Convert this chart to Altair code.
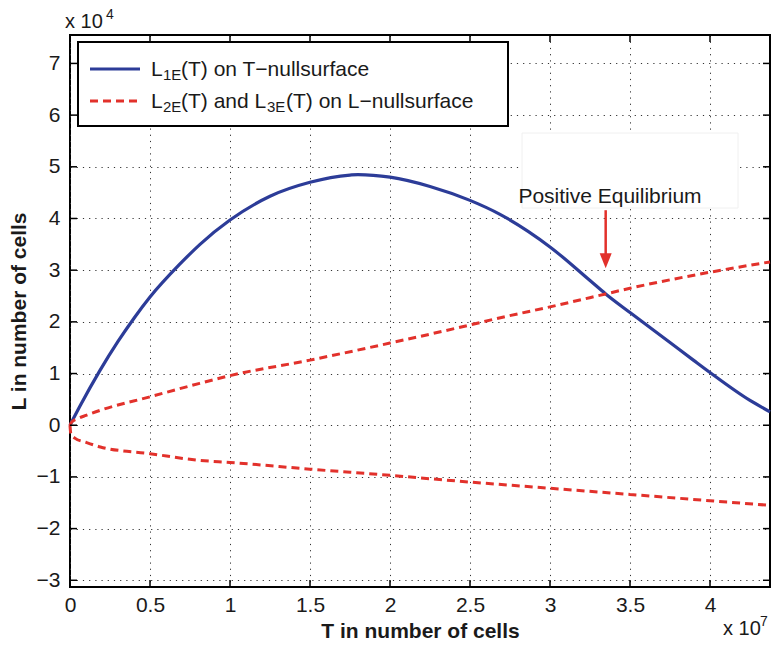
import altair as alt
import pandas as pd

# ---- data (T in units of 1e7 cells, L in units of 1e4 cells) ----
T_BLUE = [0, 0.0625, 0.1875, 0.3, 0.4, 0.5, 0.6875, 0.8125, 1.0, 1.25, 1.5, 1.75, 1.8, 2.0, 2.25, 2.5,
          2.6875, 3.0, 3.25, 3.348, 3.5, 3.75, 3.896, 4.0, 4.25, 4.375]
L_BLUE = [0, 0.37, 1.06, 1.62, 2.07, 2.48, 3.12, 3.5, 3.97, 4.43, 4.70, 4.84, 4.85, 4.80, 4.62, 4.35,
          4.08, 3.45, 2.80, 2.54, 2.18, 1.6, 1.26, 1.02, 0.48, 0.26]

T_RED_UP = [0, 0.01, 0.05, 0.1, 0.19, 0.5, 0.81, 1.0, 1.5, 2.0, 2.5, 2.69, 3.0, 3.348, 3.5, 4.0, 4.375]
L_RED_UP = [0, 0.06, 0.13, 0.19, 0.29, 0.55, 0.81, 0.96, 1.26, 1.59, 1.94, 2.08, 2.29, 2.54, 2.65, 2.96, 3.16]

T_RED_LO = [0, 0.005, 0.03, 0.1, 0.19, 0.5, 0.81, 1.0, 1.5, 2.0, 2.5, 3.0, 3.5, 4.0, 4.375]
L_RED_LO = [0, -0.16, -0.25, -0.33, -0.42, -0.55, -0.68, -0.72, -0.85, -0.97, -1.1, -1.22, -1.34, -1.46, -1.55]

X_TICKS = [0, 0.5, 1, 1.5, 2, 2.5, 3, 3.5, 4]
Y_TICKS = [-3, -2, -1, 0, 1, 2, 3, 4, 5, 6, 7]

EQ_T = [3.348]
ARROW_TOP = [4.16]
ARROW_HEAD = [3.18]

X_DOMAIN = [0, 4.375]
Y_DOMAIN = [-3.13, 7.55]

# ---- style ----
W, H = 700, 552
FONT = "Liberation Sans"
BLUE = "#2c3c98"
RED = "#e2312b"
LABEL_EXPR = "replace(format(datum.value, '~g'), '-', '\u2212')"

xscale = alt.Scale(domain=X_DOMAIN, nice=False, zero=False)
yscale = alt.Scale(domain=Y_DOMAIN, nice=False, zero=False)

common_axis = dict(grid=True, gridDash=[1.2, 5], gridColor="#333333", gridWidth=1,
                   domain=False, ticks=False, labelFont=FONT, labelFontSize=21,
                   labelColor="#1a1a1a", titleFont=FONT, titleFontSize=21,
                   titleFontWeight="bold", titleColor="#1a1a1a", labelExpr=LABEL_EXPR,
                   labelFlush=False, labelOverlap=False)

x_enc = alt.X("T:Q", scale=xscale,
              axis=alt.Axis(values=X_TICKS, title="T in number of cells",
                            labelPadding=7, titlePadding=5, **common_axis))
y_enc = alt.Y("L:Q", scale=yscale,
              axis=alt.Axis(values=Y_TICKS, title="L in number of cells",
                            labelPadding=10, titlePadding=7, **common_axis))

blue_df = pd.DataFrame({"T": T_BLUE, "L": L_BLUE})
up_df = pd.DataFrame({"T": T_RED_UP, "L": L_RED_UP})
lo_df = pd.DataFrame({"T": T_RED_LO, "L": L_RED_LO})

blue = alt.Chart(blue_df).mark_line(color=BLUE, strokeWidth=3.2, interpolate="monotone").encode(
    x=x_enc, y=y_enc, order="T:Q")
red_up = alt.Chart(up_df).mark_line(color=RED, strokeWidth=3, strokeDash=[8, 5],
                                    interpolate="monotone").encode(x=x_enc, y=y_enc, order="T:Q")
red_lo = alt.Chart(lo_df).mark_line(color=RED, strokeWidth=3, strokeDash=[8, 5],
                                    interpolate="monotone").encode(x=x_enc, y=y_enc, order="T:Q")

one = pd.DataFrame({"k": [0]})


def text(txt, x, y, size=21, weight="normal", align="left", color="#1a1a1a"):
    return alt.Chart(one).mark_text(text=txt, align=align, baseline="alphabetic", font=FONT,
                                    fontSize=size, fontWeight=weight, color=color).encode(
        x=alt.value(x), y=alt.value(y))


# annotation
ann_box = alt.Chart(one).mark_rect(fill="white", stroke="#f0f0f0", strokeWidth=1).encode(
    x=alt.value(452), x2=alt.value(668), y=alt.value(98), y2=alt.value(173))
ann_text = text("Positive Equilibrium", 540, 168, size=21, align="center")
arrow_df = pd.DataFrame({"T": EQ_T, "top": ARROW_TOP, "head": ARROW_HEAD})
arrow_shaft = alt.Chart(arrow_df).mark_rule(color=RED, strokeWidth=2.5).encode(
    x=alt.X("T:Q", scale=xscale), y=alt.Y("top:Q", scale=yscale), y2="head:Q")
arrow_head = alt.Chart(arrow_df).mark_point(
    shape="M-0.8,-1L0.8,-1L0,1Z", filled=True, fill=RED, color=RED, size=225, opacity=1,
    strokeWidth=0).encode(x=alt.X("T:Q", scale=xscale), y=alt.Y("head:Q", scale=yscale))

# legend
leg_box = alt.Chart(one).mark_rect(fill="white", stroke="black", strokeWidth=2).encode(
    x=alt.value(8), x2=alt.value(438), y=alt.value(7), y2=alt.value(91))
leg_blue = alt.Chart(one).mark_rule(color=BLUE, strokeWidth=3).encode(
    x=alt.value(20), x2=alt.value(70), y=alt.value(34))
leg_red = alt.Chart(one).mark_rule(color=RED, strokeWidth=3, strokeDash=[8, 5]).encode(
    x=alt.value(20), x2=alt.value(70), y=alt.value(66))
leg_texts = [
    text("L", 81, 41), text("1E", 93, 45, size=15), text("(T) on T\u2212nullsurface", 111, 41),
    text("L", 81, 73), text("2E", 93, 77, size=15), text("(T) and L", 111, 73),
    text("3E", 197, 77, size=15), text("(T) on L\u2212nullsurface", 216, 73),
]

# inside ticks (MATLAB box style)
xt_df = pd.DataFrame({"T": X_TICKS})
yt_df = pd.DataFrame({"L": Y_TICKS})
TL = 7
tick_b = alt.Chart(xt_df).mark_rule(color="black", strokeWidth=1.5).encode(
    x=x_enc, y=alt.value(H), y2=alt.value(H - TL))
tick_t = alt.Chart(xt_df).mark_rule(color="black", strokeWidth=1.5).encode(
    x=x_enc, y=alt.value(0), y2=alt.value(TL))
tick_l = alt.Chart(yt_df).mark_rule(color="black", strokeWidth=1.5).encode(
    y=y_enc, x=alt.value(0), x2=alt.value(TL))
tick_r = alt.Chart(yt_df).mark_rule(color="black", strokeWidth=1.5).encode(
    y=y_enc, x=alt.value(W), x2=alt.value(W - TL))

# exponent labels
exp_texts = [
    text("x 10", -5, -7, size=20), text("4", 36, -16, size=14),
    text("x 10", 653, 600, size=20), text("7", 690, 591, size=14),
]

chart = alt.layer(
    blue, red_up, red_lo, ann_box, ann_text, arrow_shaft, arrow_head,
    tick_b, tick_t, tick_l, tick_r,
    leg_box, leg_blue, leg_red, *leg_texts, *exp_texts
).properties(
    width=W, height=H,
    padding={"left": 70, "top": 35, "right": 4, "bottom": 63},
    autosize=alt.AutoSizeParams(type="none"),
    background="white",
).configure_view(stroke="black", strokeWidth=2)

chart.save("out.html", embed_options={"renderer": "svg", "actions": False})
